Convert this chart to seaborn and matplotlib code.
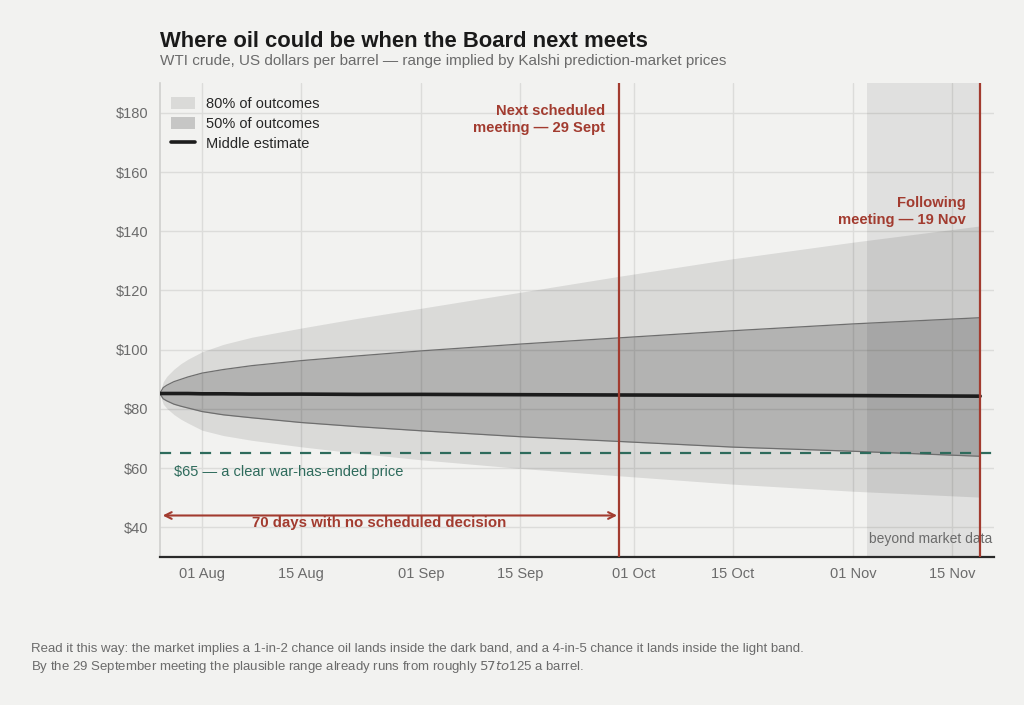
import pandas as pd
import seaborn as sns
import matplotlib.pyplot as plt
import matplotlib.dates as mdates
from matplotlib.patches import Patch
from matplotlib.lines import Line2D

# data (days counted from 26 Jul)
start = "2025-07-26"
days = [0, 0.5, 1, 2, 3, 4, 6, 9, 13, 20, 28, 37, 51, 65, 81, 98, 116]
middle = [85.2, 85.2, 85.2, 85.2, 85.2, 85.2, 85.1, 85.1, 85.0, 85.0, 84.9,
          84.9, 84.8, 84.7, 84.6, 84.5, 84.3]
p90 = [85.2, 89.2, 91.0, 93.4, 95.3, 96.8, 99.3, 101.8, 104.2, 107.3, 110.6,
       114.0, 119.4, 124.8, 130.7, 136.3, 141.8]
p75 = [85.2, 87.2, 88.0, 89.2, 90.0, 90.8, 92.1, 93.3, 94.6, 96.3, 97.9,
       99.6, 101.9, 104.0, 106.4, 108.7, 110.8]
p25 = [85.2, 83.4, 82.7, 81.6, 80.9, 80.3, 79.1, 78.0, 77.0, 75.4, 74.0,
       72.6, 70.6, 69.0, 67.1, 65.7, 64.0]
p10 = [85.2, 81.6, 80.2, 78.1, 76.5, 75.2, 72.8, 71.0, 69.4, 67.2, 65.0,
       62.8, 59.9, 57.4, 54.6, 52.2, 50.2]

next_meeting = "2025-09-29"
following_meeting = "2025-11-19"
beyond_start = "2025-11-03"
war_ended_price = 65

bg = "#f2f2f0"
red = "#a23b2f"
green = "#2e6b5c"
grey_txt = "#6b6b6b"

sns.set_theme(style="whitegrid")
plt.rcParams["font.family"] = ["Liberation Sans", "DejaVu Sans"]

df = pd.DataFrame({"date": pd.Timestamp(start) + pd.to_timedelta(days, unit="D"),
                   "middle": middle, "p90": p90, "p75": p75, "p25": p25, "p10": p10})

fig = plt.figure(figsize=(10.24, 7.05), dpi=100, facecolor=bg)
ax = fig.add_axes([0.156, 0.21, 0.815, 0.672], facecolor=bg)

ax.axvspan(pd.Timestamp(beyond_start), pd.Timestamp(following_meeting),
           color="black", alpha=0.07, lw=0, zorder=1)

ax.fill_between(df["date"], df["p10"], df["p90"], color="#1a1a1a", alpha=0.11, lw=0, zorder=2)
ax.fill_between(df["date"], df["p25"], df["p75"], color="#1a1a1a", alpha=0.2, lw=0, zorder=3)
ax.plot(df["date"], df["p75"], color="#6e6e6e", lw=0.9, zorder=4)
ax.plot(df["date"], df["p25"], color="#6e6e6e", lw=0.9, zorder=4)
sns.lineplot(data=df, x="date", y="middle", color="#1c1c1c", lw=2.6, ax=ax, zorder=6)

ax.axhline(war_ended_price, color=green, lw=1.6, ls=(0, (5, 4)), zorder=5)
ax.axvline(pd.Timestamp(next_meeting), color=red, lw=1.6, zorder=7)
ax.axvline(pd.Timestamp(following_meeting), color=red, lw=1.6, zorder=7)

ax.annotate("", xy=(pd.Timestamp("2025-07-26 10:00"), 44),
            xytext=(pd.Timestamp("2025-09-28 16:00"), 44),
            arrowprops=dict(arrowstyle="<->", color=red, lw=1.5,
                            shrinkA=0, shrinkB=0), zorder=8)
ax.text(pd.Timestamp("2025-08-26"), 41.5, "70 days with no scheduled decision",
        color=red, fontsize=10.8, fontweight="bold", ha="center", va="center")
ax.text(pd.Timestamp("2025-07-28"), 58.6, "$65 — a clear war-has-ended price",
        color=green, fontsize=10.5, ha="left", va="center")
ax.text(pd.Timestamp("2025-09-27"), 183, "Next scheduled\nmeeting — 29 Sept",
        color=red, fontsize=10.6, fontweight="bold", ha="right", va="top", linespacing=1.3)
ax.text(pd.Timestamp("2025-11-17"), 152, "Following\nmeeting — 19 Nov",
        color=red, fontsize=10.6, fontweight="bold", ha="right", va="top", linespacing=1.3)
ax.text(pd.Timestamp("2025-11-20 18:00"), 36.2, "beyond market data",
        color=grey_txt, fontsize=10, ha="right", va="center")

ax.set_xlim(pd.Timestamp("2025-07-26"), pd.Timestamp("2025-11-21"))
ax.set_ylim(30, 190)
ax.set_yticks(range(40, 181, 20))
ax.set_yticklabels([f"${v}" for v in range(40, 181, 20)])
ax.xaxis.set_major_locator(mdates.DayLocator(bymonthday=[1, 15]))
ax.xaxis.set_major_formatter(mdates.DateFormatter("%d %b"))
ax.set_xlabel("")
ax.set_ylabel("")
ax.tick_params(axis="both", length=4, width=0.8, color="#9a9a9a",
               labelcolor=grey_txt, labelsize=10.5, pad=4)
ax.tick_params(axis="x", pad=3)
ax.grid(True, color="#dcdcda", lw=1)
for s in ["top", "right"]:
    ax.spines[s].set_visible(False)
ax.spines["left"].set_color("#d0d0ce")
ax.spines["left"].set_linewidth(1.2)
ax.spines["bottom"].set_color("#2a2a2a")
ax.spines["bottom"].set_linewidth(1.6)

handles = [Patch(facecolor="#1a1a1a", alpha=0.11, lw=0, label="80% of outcomes"),
           Patch(facecolor="#1a1a1a", alpha=0.2, lw=0, label="50% of outcomes"),
           Line2D([], [], color="#1c1c1c", lw=2.6, label="Middle estimate")]
ax.legend(handles=handles, loc="upper left", frameon=False, fontsize=10.5,
          handlelength=1.6, handleheight=0.85, handletextpad=0.8, labelspacing=0.4,
          borderaxespad=0.4, bbox_to_anchor=(0.0, 0.995))

fig.text(0.156, 1 - 31 / 705, "Where oil could be when the Board next meets",
         fontsize=15.8, fontweight="bold", color="#1a1a1a", va="top")
fig.text(0.156, 1 - 54 / 705,
         "WTI crude, US dollars per barrel — range implied by Kalshi prediction-market prices",
         fontsize=11, color=grey_txt, va="top")
fig.text(0.030, 1 - 649 / 705,
         "Read it this way: the market implies a 1-in-2 chance oil lands inside the dark band, "
         "and a 4-in-5 chance it lands inside the light band.",
         fontsize=9.5, color=grey_txt, va="center")
fig.text(0.030, 1 - 667 / 705,
         "By the 29 September meeting the plausible range already runs from roughly $57 to $125 a barrel.",
         fontsize=9.5, color=grey_txt, va="center")

fig.savefig("out.png", dpi=100, facecolor=bg)
